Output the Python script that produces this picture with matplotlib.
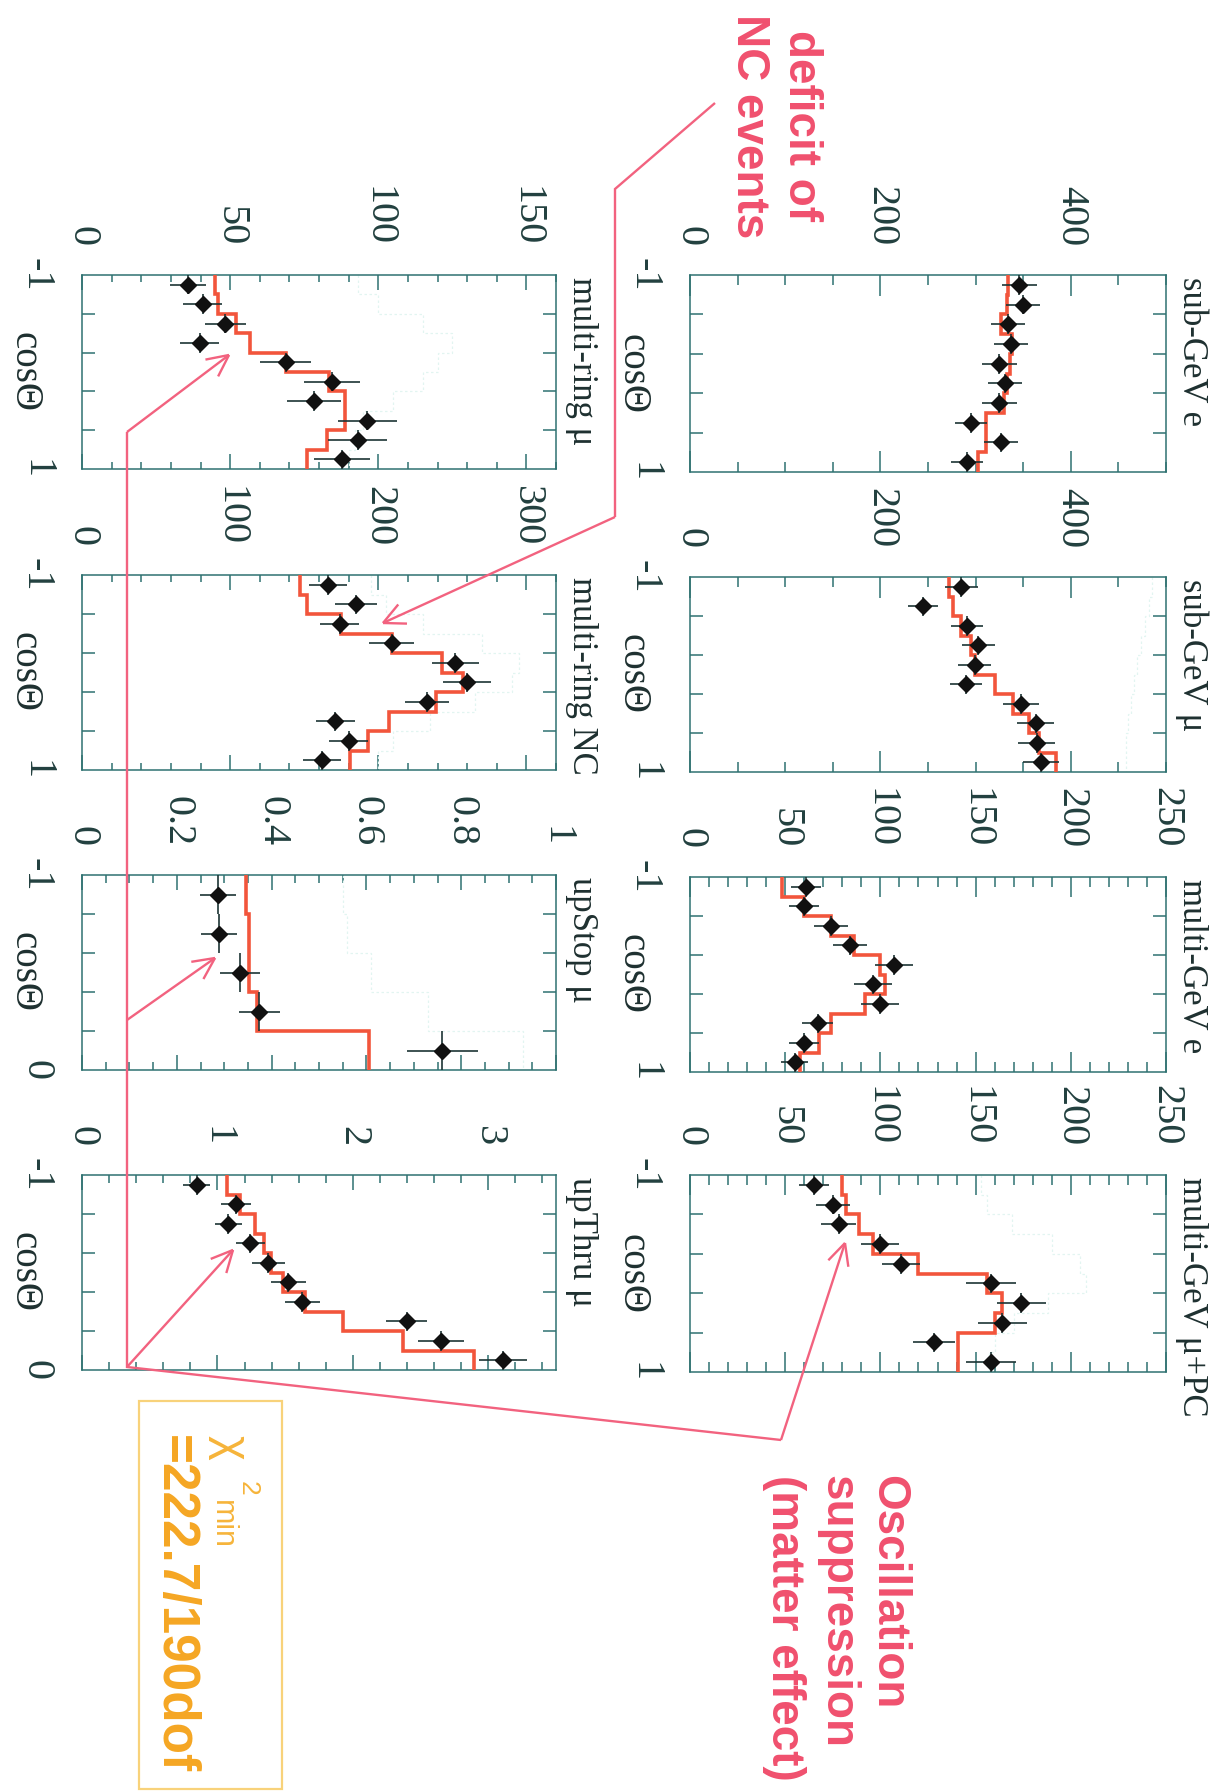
import numpy as np
import matplotlib
matplotlib.use("Agg")
import matplotlib.pyplot as plt
from matplotlib.ticker import FixedLocator, FixedFormatter, MultipleLocator

# ---------------- zenith-angle binning ----------------
cos_edges_full = [-1.0, -0.8, -0.6, -0.4, -0.2, 0.0, 0.2, 0.4, 0.6, 0.8, 1.0]
cos_edges_upstop = [-1.0, -0.8, -0.6, -0.4, -0.2, 0.0]
cos_edges_upthru = [-1.0, -0.9, -0.8, -0.7, -0.6, -0.5, -0.4, -0.3, -0.2, -0.1, 0.0]

# ---------------- sub-GeV e-like ----------------
subgev_e_data = [346, 350, 334, 337, 325, 331, 325, 295, 327, 291]
subgev_e_err = [18, 18, 18, 18, 18, 18, 18, 17, 18, 17]
subgev_e_mc = [334, 333, 327, 338, 336, 333, 330, 311, 311, 303]

# ---------------- sub-GeV mu-like ----------------
subgev_mu_data = [285, 245, 291, 303, 299, 290, 348, 363, 364, 369]
subgev_mu_err = [17, 16, 17, 17, 17, 17, 19, 19, 19, 19]
subgev_mu_mc = [272, 276, 285, 295, 299, 320, 339, 356, 367, 384]
subgev_mu_noosc = [485, 482, 478, 474, 470, 466, 463, 460, 458, 458]

# ---------------- multi-GeV e-like ----------------
multigev_e_data = [61, 60, 74, 84, 107, 96, 100, 67, 60, 55]
multigev_e_err = [8, 8, 9, 9, 10, 10, 10, 8, 8, 7]
multigev_e_mc = [48.5, 60, 74, 86, 100, 102.5, 92, 74, 68, 58]

# ---------------- multi-GeV mu-like + PC ----------------
multigev_mupc_data = [65, 75, 78, 100, 111, 158, 174, 164, 128, 158]
multigev_mupc_err = [8, 9, 9, 10, 10, 13, 13, 13, 11, 13]
multigev_mupc_mc = [80, 82, 89, 96, 120, 156, 164, 160, 141, 141]
multigev_mupc_noosc = [153, 156, 169, 190, 205, 208, 188, 170, 160, 157]

# ---------------- multi-ring mu ----------------
multiring_mu_data = [35.7, 40.7, 48.4, 39.7, 68.7, 84.4, 78.3, 96.3, 93.1, 87.7]
multiring_mu_err = [6, 6.5, 7, 6.5, 8.5, 9.5, 9, 10, 10, 9.5]
multiring_mu_mc = [45, 46, 52, 56.7, 68.7, 83.3, 88.7, 88.7, 82.7, 76]
multiring_mu_noosc = [93, 100, 115, 125, 120, 115, 105, 95, 92, 90]

# ---------------- multi-ring NC ----------------
multiring_nc_data = [166, 185, 174, 209, 252, 260, 233, 171, 180, 162]
multiring_nc_err = [13, 14, 13, 15, 16, 16, 15, 13, 13, 13]
multiring_nc_mc = [147, 152, 175, 209, 243, 257, 239, 207, 193, 181]
multiring_nc_noosc = [195, 205, 230, 270, 295, 290, 265, 235, 210, 200]

# ---------------- upward stopping mu (flux) ----------------
upstop_data = [0.286, 0.288, 0.334, 0.374, 0.760]
upstop_err = [0.038, 0.038, 0.042, 0.043, 0.075]
upstop_mc = [0.345, 0.353, 0.353, 0.370, 0.605]
upstop_noosc = [0.55, 0.56, 0.61, 0.73, 0.93]

# ---------------- upward through-going mu (flux) ----------------
upthru_data = [0.847, 1.138, 1.079, 1.244, 1.376, 1.524, 1.626, 2.397, 2.653, 3.109]
upthru_err = [0.10, 0.11, 0.10, 0.11, 0.12, 0.13, 0.13, 0.15, 0.17, 0.18]
upthru_mc = [1.074, 1.168, 1.279, 1.344, 1.397, 1.485, 1.647, 1.926, 2.368, 2.897]

# ---------------- axis ticks ----------------
ticks_subgev = [0, 200, 400]
labels_subgev = ["0", "200", "400"]
ticks_multigev = [0, 50, 100, 150, 200, 250]
labels_multigev = ["0", "50", "100", "150", "200", "250"]
ticks_mrmu = [0, 50, 100, 150]
labels_mrmu = ["0", "50", "100", "150"]
ticks_mrnc = [0, 100, 200, 300]
labels_mrnc = ["0", "100", "200", "300"]
ticks_upstop = [0, 0.2, 0.4, 0.6, 0.8, 1.0]
labels_upstop = ["0", "0.2", "0.4", "0.6", "0.8", "1"]
ticks_upthru = [0, 1, 2, 3]
labels_upthru = ["0", "1", "2", "3"]

# ---------------- style ----------------
W, H, DPI = 1218, 1791, 100
FRAME = "#2f7271"
TICKTXT = "#22403f"
MCRED = "#f2553c"
NOOSC = "#e2f5f1"
ANNRED = "#f0506e"
ANNLINE = "#f2627f"
GOLD = "#f5a623"
GOLDBOX = "#f8d27a"
SERIF = "Liberation Serif"
SANS = "Liberation Sans"

fig = plt.figure(figsize=(W / DPI, H / DPI), dpi=DPI)
fig.patch.set_facecolor("white")

# overlay in pixel units (y grows downward) for labels and annotations
ann = fig.add_axes([0, 0, 1, 1], zorder=10)
ann.set_xlim(0, W)
ann.set_ylim(H, 0)
ann.axis("off")
ann.patch.set_alpha(0)

PX = 72.0 / DPI  # points per pixel


def panel(box, edges, data, err, mc, noosc, xmax, ticks, labels, minor,
          title, cos_lo, cos_hi, cos_minor, major_len, minor_len):
    x0, y0, x1, y1 = box
    ax = fig.add_axes([x0 / W, 1 - y1 / H, (x1 - x0) / W, (y1 - y0) / H])
    e = np.asarray(edges, dtype=float)
    centers = 0.5 * (e[:-1] + e[1:])
    half = 0.5 * (e[1:] - e[:-1])

    if noosc is not None:
        ax.stairs(noosc, e, orientation="horizontal", baseline=None,
                  color=NOOSC, lw=0.9, ls=(0, (2, 2)), zorder=2)
    ax.stairs(mc, e, orientation="horizontal", baseline=None,
              color=MCRED, lw=2.6, zorder=3)
    ax.errorbar(data, centers, xerr=err, yerr=half, fmt="D", ms=8,
                mfc="#111111", mec="#111111", ecolor="#1d3535",
                elinewidth=1.2, capsize=0, zorder=4)

    ax.set_xlim(0, xmax)
    ax.set_ylim(cos_hi, cos_lo)

    ax.xaxis.set_major_locator(FixedLocator(ticks))
    ax.xaxis.set_major_formatter(FixedFormatter(labels))
    ax.xaxis.set_minor_locator(MultipleLocator(minor))
    ax.yaxis.set_major_locator(FixedLocator([cos_lo, cos_hi]))
    ax.yaxis.set_major_formatter(FixedFormatter(
        ["-1" if cos_lo == -1 else str(cos_lo),
         "1" if cos_hi == 1 else "0"]))
    ax.yaxis.set_minor_locator(FixedLocator(cos_minor))

    ax.tick_params(axis="x", which="both", direction="in", top=True,
                   bottom=True, labeltop=True, labelbottom=False,
                   color=FRAME, width=1.1, labelrotation=-90,
                   labelsize=29, labelcolor=TICKTXT, pad=21)
    ax.tick_params(axis="x", which="major", length=major_len * PX)
    ax.tick_params(axis="x", which="minor", length=minor_len * PX)
    ax.tick_params(axis="y", which="both", direction="in", left=True,
                   right=True, labelleft=True, color=FRAME, width=1.1,
                   labelrotation=-90, labelsize=29, labelcolor=TICKTXT,
                   pad=20)
    ax.tick_params(axis="y", which="major", length=0)
    ax.tick_params(axis="y", which="minor", length=13 * PX)
    for lab in ax.get_xticklabels() + ax.get_yticklabels():
        lab.set_fontfamily(SERIF)
    for lab in ax.get_yticklabels():
        lab.set_va("center")
    for sp in ax.spines.values():
        sp.set_color(FRAME)
        sp.set_linewidth(1.1)

    # panel title, reading downward along the right side
    ann.text(x1 + 17, y0 + 2, title, rotation=-90, rotation_mode="anchor",
             ha="left", va="baseline", fontsize=25, family=SERIF,
             color="#1e3030")
    # zenith-angle label
    ann.text(x0 - 58, 0.5 * (y0 + y1), "cos\u0398", rotation=-90,
             ha="center", va="center", fontsize=28, family=SERIF,
             color="#1e3030")
    return ax


RX0, RX1 = 690, 1166
LX0, LX1 = 82, 556
inner_full = [-0.6, -0.2, 0.2, 0.6]
inner_up = [-0.8, -0.6, -0.4, -0.2]

panel((RX0, 275, RX1, 472), cos_edges_full, subgev_e_data, subgev_e_err,
      subgev_e_mc, None, 500, ticks_subgev, labels_subgev, 50,
      "sub-GeV e", -1, 1, inner_full, 21, 10)
panel((RX0, 577, RX1, 772), cos_edges_full, subgev_mu_data, subgev_mu_err,
      subgev_mu_mc, subgev_mu_noosc, 500, ticks_subgev, labels_subgev, 50,
      "sub-GeV \u03bc", -1, 1, inner_full, 21, 10)
panel((RX0, 877, RX1, 1072), cos_edges_full, multigev_e_data, multigev_e_err,
      multigev_e_mc, None, 250, ticks_multigev, labels_multigev, 10,
      "multi-GeV e", -1, 1, inner_full, 20, 10)
panel((RX0, 1175, RX1, 1372), cos_edges_full, multigev_mupc_data,
      multigev_mupc_err, multigev_mupc_mc, multigev_mupc_noosc, 250,
      ticks_multigev, labels_multigev, 10, "multi-GeV \u03bc+PC", -1, 1,
      inner_full, 20, 10)

panel((LX0, 275, LX1, 469), cos_edges_full, multiring_mu_data,
      multiring_mu_err, multiring_mu_mc, multiring_mu_noosc, 160,
      ticks_mrmu, labels_mrmu, 10, "multi-ring \u03bc", -1, 1, inner_full,
      15, 7)
panel((LX0, 575, LX1, 770), cos_edges_full, multiring_nc_data,
      multiring_nc_err, multiring_nc_mc, multiring_nc_noosc, 320,
      ticks_mrnc, labels_mrnc, 20, "multi-ring NC", -1, 1, inner_full, 15, 7)
panel((LX0, 875, LX1, 1070), cos_edges_upstop, upstop_data, upstop_err,
      upstop_mc, upstop_noosc, 1.0, ticks_upstop, labels_upstop, 0.05,
      "upStop \u03bc", -1, 0, inner_up, 15, 8)
panel((LX0, 1175, LX1, 1370), cos_edges_upthru, upthru_data, upthru_err,
      upthru_mc, None, 3.5, ticks_upthru, labels_upthru, 0.2,
      "upThru \u03bc", -1, 0, inner_up, 15, 8)


# ---------------- annotations ----------------
def poly(points):
    p = np.asarray(points, dtype=float)
    ann.plot(p[:, 0], p[:, 1], color=ANNLINE, lw=1.7,
             solid_joinstyle="miter", solid_capstyle="butt")


def arrow(frm, tip, length=24.0, spread=26.0):
    frm = np.asarray(frm, dtype=float)
    tip = np.asarray(tip, dtype=float)
    poly([frm, tip])
    d = (frm - tip) / np.hypot(*(frm - tip))
    for s in (-1, 1):
        a = np.radians(s * spread)
        r = np.array([np.cos(a) * d[0] - np.sin(a) * d[1],
                      np.sin(a) * d[0] + np.cos(a) * d[1]])
        poly([tip, tip + length * r])


# deficit of NC events
poly([(715, 103), (615, 189), (615, 517)])
arrow((615, 517), (383, 623))
ann.text(789, 126, "deficit of", rotation=-90, rotation_mode="anchor",
         ha="center", va="baseline", fontsize=33, family=SANS,
         weight="bold", color=ANNRED)
ann.text(737, 126, "NC events", rotation=-90, rotation_mode="anchor",
         ha="center", va="baseline", fontsize=33, family=SANS,
         weight="bold", color=ANNRED)

# oscillation suppression (matter effect)
hub = (127, 1367)
knee = (781, 1440)
poly([(127, 432), hub, knee])
arrow(knee, (845, 1243))
arrow((127, 432), (229, 355))
arrow((127, 1020), (215, 958))
arrow(hub, (233, 1250))
for xb, line in [(876, "Oscillation"), (825, "suppression"),
                 (772, "(matter effect)")]:
    ann.text(xb, 1475, line, rotation=-90, rotation_mode="anchor",
             ha="left", va="baseline", fontsize=33, family=SANS,
             weight="bold", color=ANNRED)

# chi-square box
ann.add_patch(plt.Rectangle((139, 1401), 143, 388, fill=False,
                            edgecolor=GOLDBOX, lw=1.6))
ann.text(218, 1435, "\u03c7", rotation=-90, rotation_mode="anchor",
         ha="left", va="baseline", fontsize=34, family=SANS, color="#f6b43a")
ann.text(241, 1481, "2", rotation=-90, rotation_mode="anchor",
         ha="left", va="baseline", fontsize=19, family=SANS, color="#f6b43a")
ann.text(214, 1500, "min", rotation=-90, rotation_mode="anchor",
         ha="left", va="baseline", fontsize=22, family=SANS, color="#f6b43a")
ann.text(161, 1435, "=222.7/190dof", rotation=-90, rotation_mode="anchor",
         ha="left", va="baseline", fontsize=37, family=SANS, weight="bold",
         color=GOLD)

fig.savefig("out.png", dpi=DPI, facecolor="white")
